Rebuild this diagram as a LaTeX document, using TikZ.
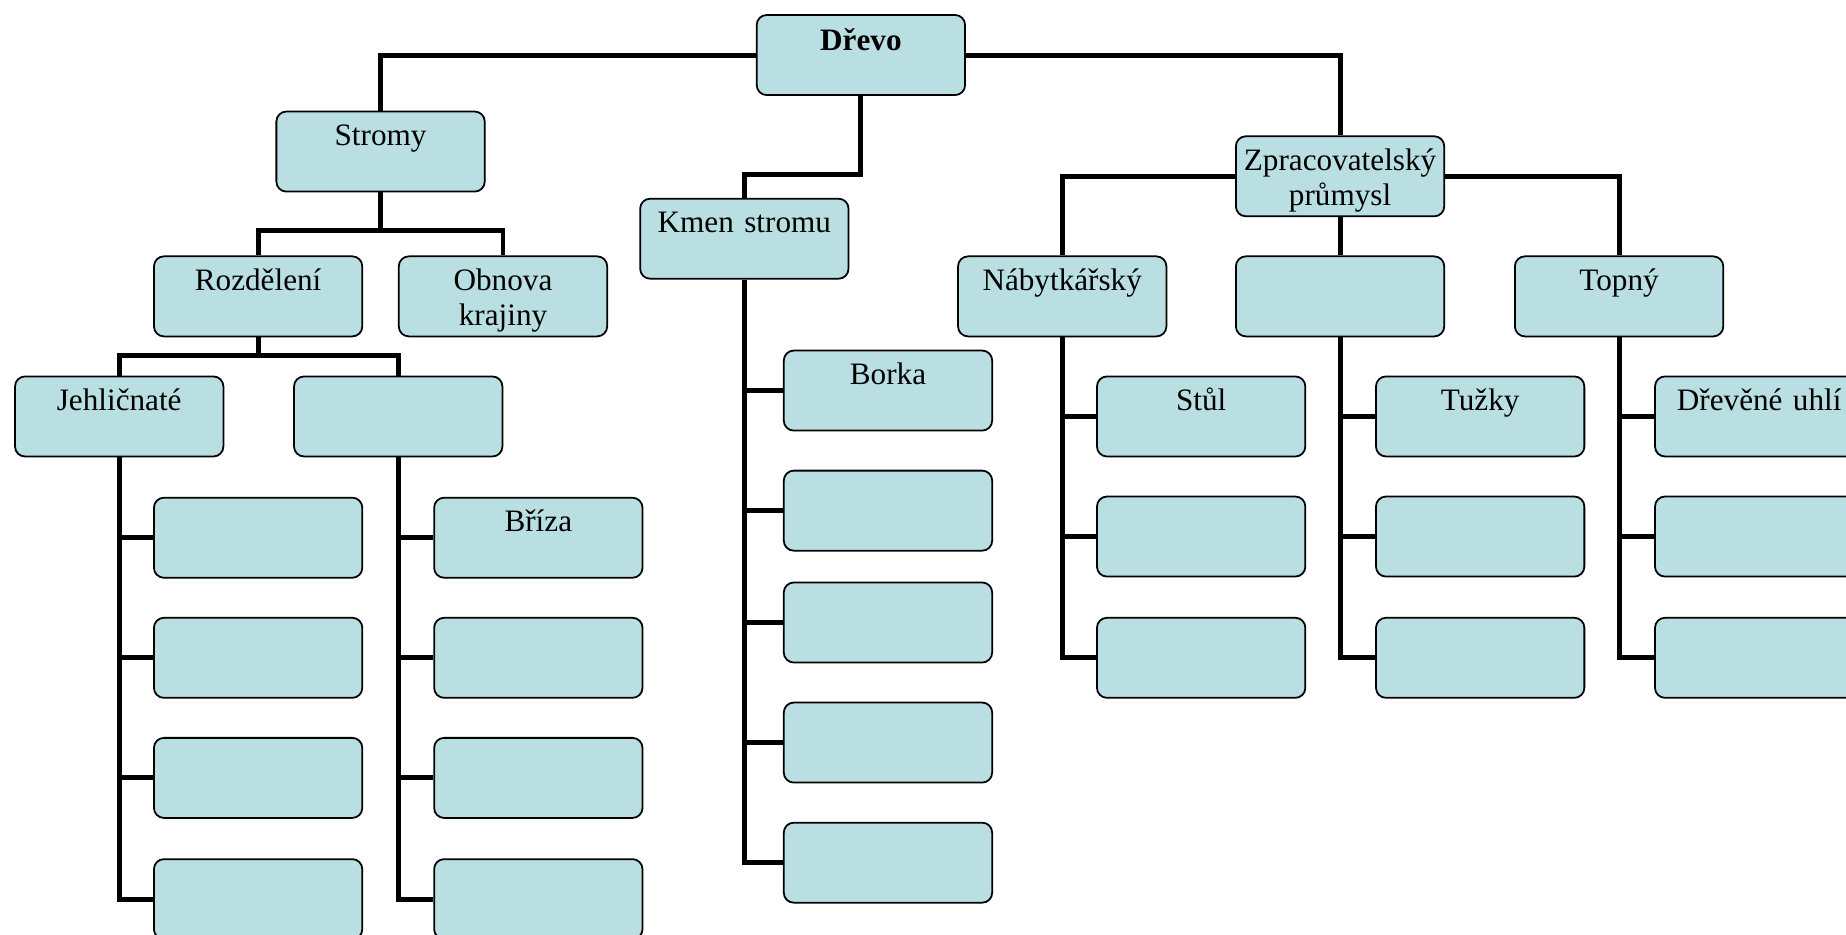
\documentclass[tikz,border=0pt]{standalone}
\usepackage{fontspec}
\setmainfont{Liberation Serif}
\definecolor{boxfill}{RGB}{186,223,227}
\newcommand\orgfont{\fontsize{26.5}{29.5}\selectfont}
\tikzset{
  orgbox/.style={draw=black, line width=1.5pt, fill=boxfill, rounded corners=8.5pt,
    inner sep=0pt, text width=177pt, align=center, text height=29pt, text depth=39pt,
    font=\orgfont, anchor=north west},
  link/.style={draw=black, line width=4.2pt},
}
\begin{document}
\begin{tikzpicture}[x=1pt,y=-1pt]
\useasboundingbox (0,0) rectangle (1568,794);
\clip (0,0) rectangle (1568,794);

% top level
\node[orgbox, font=\orgfont\bfseries, text height=30pt, text depth=38pt] (drevo) at (642,12) {Dřevo};
\node[orgbox] (stromy) at (234,94) {Stromy};
\node[orgbox] (kmen) at (543,168) {Kmen stromu};
\node[orgbox] (zprac) at (1049,115) {Zpracovatelský\\průmysl};

% trees branch
\node[orgbox] (rozd) at (130,217) {Rozdělení};
\node[orgbox] (obnova) at (338,217) {Obnova\\krajiny};
\node[orgbox] (jehl) at (12,319) {Jehličnaté};
\node[orgbox] (listn) at (249,319) {};
\foreach \i/\y in {1/422,2/524,3/626,4/729} {
  \node[orgbox] (j\i) at (130,\y) {};
}
\node[orgbox] (l1) at (368,422) {Bříza};
\foreach \i/\y in {2/524,3/626,4/729} {
  \node[orgbox] (l\i) at (368,\y) {};
}

% trunk branch
\node[orgbox] (k1) at (665,297) {Borka};
\foreach \i/\y in {2/399,3/494,4/596,5/698} {
  \node[orgbox] (k\i) at (665,\y) {};
}

% industry branch
\node[orgbox] (nab) at (813,217) {Nábytkářský};
\node[orgbox] (mid) at (1049,217) {};
\node[orgbox] (topny) at (1286,217) {Topný};
\node[orgbox] (n1) at (931,319) {Stůl};
\node[orgbox] (m1) at (1168,319) {Tužky};
\node[orgbox] (t1) at (1405,319) {Dřevěné uhlí};
\foreach \i/\y in {2/421,3/524} {
  \node[orgbox] (n\i) at (931,\y) {};
  \node[orgbox] (m\i) at (1168,\y) {};
  \node[orgbox] (t\i) at (1405,\y) {};
}

% connectors
\draw[link] (drevo.west) -| (stromy.north);
\draw[link] (drevo.east) -| (zprac.north);
\draw[link] (drevo.south) |- ([yshift=20pt]kmen.north) -- (kmen.north);

\draw[link] (stromy.south) |- ([yshift=21pt]rozd.north) -- (rozd.north);
\draw[link] (stromy.south) |- ([yshift=21pt]obnova.north) -- (obnova.north);
\draw[link] (rozd.south) |- ([yshift=17pt]jehl.north) -- (jehl.north);
\draw[link] (rozd.south) |- ([yshift=17pt]listn.north) -- (listn.north);
\foreach \i in {1,...,4} {
  \draw[link] (jehl.south) |- (j\i.west);
  \draw[link] (listn.south) |- (l\i.west);
}

\foreach \i in {1,...,5} {
  \draw[link] (kmen.south) |- (k\i.west);
}

\draw[link] (zprac.west) -| (nab.north);
\draw[link] (zprac.east) -| (topny.north);
\draw[link] (zprac.south) -- (mid.north);
\foreach \i in {1,2,3} {
  \draw[link] (nab.south) |- (n\i.west);
  \draw[link] (mid.south) |- (m\i.west);
  \draw[link] (topny.south) |- (t\i.west);
}
\end{tikzpicture}
\end{document}
